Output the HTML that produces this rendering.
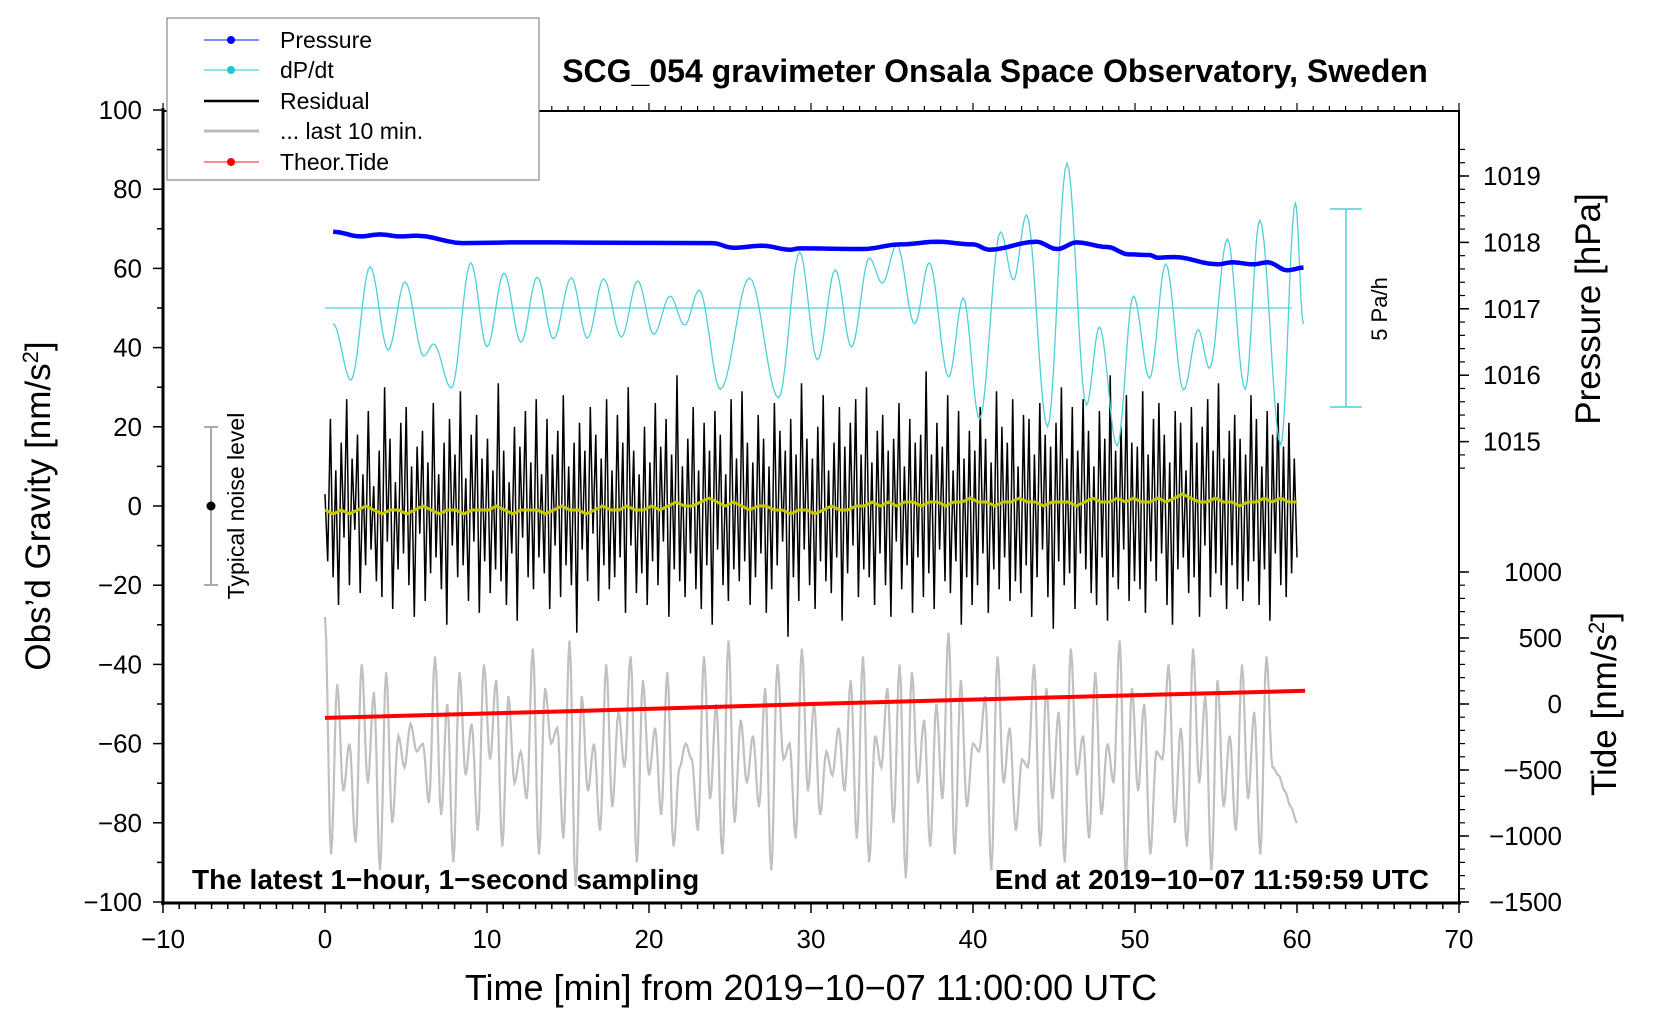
<!DOCTYPE html>
<html><head><meta charset="utf-8"><style>
html,body{margin:0;padding:0;background:#fff}
svg{display:block;font-family:"Liberation Sans",sans-serif}
</style></head><body>
<svg id="chart" width="1660" height="1020" viewBox="0 0 1660 1020" xmlns="http://www.w3.org/2000/svg">
<g id="axes"></g>
<g id="series"></g>
<text x="995" y="82" text-anchor="middle" font-size="32" font-weight="bold">SCG_054 gravimeter Onsala Space Observatory, Sweden</text>
<text x="192" y="889" font-size="28" font-weight="bold">The latest 1−hour, 1−second sampling</text>
<text x="1429" y="889" text-anchor="end" font-size="28" font-weight="bold">End at 2019−10−07 11:59:59 UTC</text>
<text x="811" y="1000" text-anchor="middle" font-size="36">Time [min] from 2019−10−07 11:00:00 UTC</text>
<text transform="translate(50,506) rotate(-90)" text-anchor="middle" font-size="35">Obs’d Gravity [nm/s<tspan baseline-shift="super" font-size="22">2</tspan>]</text>
<text transform="translate(1600,309) rotate(-90)" text-anchor="middle" font-size="35">Pressure [hPa]</text>
<text transform="translate(1616,704) rotate(-90)" text-anchor="middle" font-size="35">Tide [nm/s<tspan baseline-shift="super" font-size="22">2</tspan>]</text>
<g>
<line x1="211" y1="427" x2="211" y2="585" stroke="#aaa" stroke-width="2"/>
<line x1="204" y1="427" x2="218" y2="427" stroke="#aaa" stroke-width="2"/>
<line x1="204" y1="585" x2="218" y2="585" stroke="#aaa" stroke-width="2"/>
<circle cx="211" cy="506" r="4.5" fill="#000"/>
<text transform="translate(244,506) rotate(-90)" text-anchor="middle" font-size="23">Typical noise level</text>
</g>
<g>
<line x1="1346" y1="209" x2="1346" y2="407" stroke="#4dd0d6" stroke-width="1.5"/>
<line x1="1330" y1="209" x2="1362" y2="209" stroke="#4dd0d6" stroke-width="1.5"/>
<line x1="1330" y1="407" x2="1362" y2="407" stroke="#4dd0d6" stroke-width="1.5"/>
<text transform="translate(1387,309) rotate(-90)" text-anchor="middle" font-size="22">5 Pa/h</text>
</g>
<g>
<rect x="167" y="18" width="372" height="162" fill="#fff" stroke="#888" stroke-width="1.2"/>
<g><line x1="204" y1="40" x2="259" y2="40" stroke="#3344ff" stroke-width="1.2"/><circle cx="231" cy="40" r="4" fill="#0000ff"/><text x="280" y="48" font-size="23">Pressure</text></g>
<g><line x1="204" y1="70" x2="259" y2="70" stroke="#4dd0d6" stroke-width="1.2"/><circle cx="231" cy="70" r="4" fill="#20c8c8"/><text x="280" y="78" font-size="23">dP/dt</text></g>
<g><line x1="204" y1="101" x2="259" y2="101" stroke="#000" stroke-width="2.5"/><text x="280" y="109" font-size="23">Residual</text></g>
<g><line x1="204" y1="131" x2="259" y2="131" stroke="#bbb" stroke-width="3"/><text x="280" y="139" font-size="23">... last 10 min.</text></g>
<g><line x1="204" y1="162" x2="259" y2="162" stroke="#ff4444" stroke-width="1.2"/><circle cx="231" cy="162" r="4" fill="#ff0000"/><text x="280" y="170" font-size="23">Theor.Tide</text></g>
</g>
</svg>
<script>
const resid = [3,-14,22,-18,9,-25,16,-8,27,-20,12,-6,18,-22,8,-15,24,-11,5,-19,
14,-23,30,-9,17,-26,6,-16,21,-12,25,-20,10,-28,15,-7,19,-24,11,-17,
26,-13,8,-21,16,-30,22,-10,13,-18,29,-15,7,-24,18,-9,23,-27,12,-14,
17,-22,9,-16,31,-19,14,-25,6,-12,20,-29,15,-8,24,-18,11,-21,27,-13,
8,-17,22,-26,13,-10,19,-23,28,-15,10,-20,16,-32,21,-11,14,-19,25,-7,
18,-24,12,-15,27,-21,9,-18,23,-13,16,-27,30,-10,14,-22,8,-17,20,-25,
11,-14,26,-20,15,-9,22,-28,13,-16,33,-19,10,-23,17,-12,25,-21,9,-26,
21,-15,14,-30,24,-11,18,-20,8,-24,27,-16,12,-19,29,-14,16,-25,11,-18,
23,-12,17,-27,10,-21,26,-15,19,-9,14,-33,22,-18,13,-24,31,-11,17,-20,
12,-26,20,-14,28,-19,9,-22,16,-13,25,-29,15,-17,21,-10,27,-23,13,-16,
30,-18,11,-25,19,-12,23,-20,14,-28,17,-9,26,-21,10,-15,22,-27,16,-13,
18,-23,34,-17,13,-26,21,-11,15,-19,28,-22,9,-14,24,-30,12,-18,19,-25,
14,-20,25,-12,17,-27,11,-16,29,-21,20,-13,16,-24,27,-19,10,-22,23,-15,
22,-28,13,-18,26,-11,18,-23,15,-31,21,-14,30,-20,12,-17,25,-26,14,-12,
27,-16,19,-22,10,-25,24,-13,17,-29,33,-18,14,-21,20,-11,28,-24,16,-19,
15,-21,29,-27,13,-14,22,-19,26,-12,18,-25,11,-30,24,-16,21,-13,9,-22,
25,-18,16,-28,20,-10,27,-23,14,-17,31,-20,12,-26,19,-15,23,-21,17,-24,
13,-19,28,-14,22,-25,10,-16,24,-29,18,-12,26,-20,15,-23,21,-17,12,-13];
const smooth = [-1,-2,-1,-2,-1,0,-1,-2,-1,-1,-2,-1,0,-1,-2,-1,-1,-2,-1,-1,
-1,0,-1,-2,-1,-1,-1,-2,-1,0,-1,-1,-2,-1,0,-1,-1,0,-1,-1,
0,-1,0,1,0,0,1,2,1,0,1,0,-1,0,0,-1,-1,-2,-1,-1,
-2,-1,0,-1,-1,0,0,1,0,1,0,1,1,0,1,1,0,1,1,2,
1,1,0,1,1,2,1,1,0,1,1,1,0,1,2,1,1,2,1,2,
1,1,2,1,2,3,2,1,1,2,1,1,0,1,1,2,1,2,1,1];
const last10 = [-28,-88,-45,-72,-60,-85,-40,-70,-47,-92,-42,-80,-58,-66,-55,-62,-60,-75,-38,-78,
-50,-90,-42,-68,-55,-82,-40,-64,-44,-86,-48,-70,-62,-74,-36,-88,-46,-60,-56,-84,
-34,-96,-48,-72,-60,-82,-40,-76,-52,-66,-38,-90,-44,-68,-56,-78,-42,-86,-66,-60,
-64,-82,-38,-74,-50,-88,-34,-80,-54,-70,-58,-76,-46,-92,-40,-64,-60,-84,-36,-72,
-50,-78,-62,-68,-56,-72,-44,-84,-38,-90,-58,-66,-46,-80,-40,-94,-42,-70,-54,-86,
-50,-74,-32,-88,-44,-76,-60,-62,-48,-92,-38,-70,-56,-82,-64,-66,-40,-86,-46,-74,
-52,-90,-36,-68,-58,-84,-42,-78,-60,-70,-34,-94,-46,-72,-50,-88,-62,-64,-40,-80,
-56,-86,-36,-70,-48,-92,-44,-76,-58,-82,-40,-74,-52,-88,-38,-66,-68,-72,-76,-80];
const pressT = [0.5,2.2,3.4,4.6,5.7,8.5,12.0,23.9,25.2,27.0,28.7,29.3,33.2,35.5,37.8,40.0,41.0,43.9,45.2,46.4,48.3,49.6,50.9,51.4,52.4,55.1,56.0,57.3,58.2,59.4,60.4];
const pressV = [1018.16,1018.09,1018.12,1018.09,1018.10,1017.99,1018.0,1017.99,1017.92,1017.95,1017.89,1017.91,1017.90,1017.97,1018.01,1017.97,1017.89,1018.01,1017.90,1018.0,1017.93,1017.82,1017.81,1017.77,1017.78,1017.67,1017.70,1017.67,1017.70,1017.58,1017.62];
const dpdtT = [0.5,1.6,2.78,3.9,4.94,6.1,6.7,7.8,9.0,10.0,11.05,12.1,13.1,14.1,15.2,16.2,17.2,18.3,19.3,20.3,21.3,22.2,23.1,24.4,26.2,28.0,29.3,30.4,31.5,32.5,33.6,34.4,35.3,36.4,37.3,38.5,39.4,40.4,41.7,42.5,43.3,44.6,45.8,47.0,47.8,48.9,49.9,50.9,51.9,53.0,53.9,54.6,55.7,56.8,57.7,59.0,59.9,60.4];
const dpdtV = [-0.40,-1.82,1.04,-1.06,0.66,-1.21,-0.91,-2.02,1.14,-0.98,0.88,-0.86,0.78,-0.78,0.76,-0.76,0.73,-0.73,0.68,-0.66,0.30,-0.43,0.45,-2.05,0.76,-2.27,1.41,-1.31,0.96,-0.98,1.26,0.63,1.59,-0.40,1.14,-1.74,0.25,-2.80,1.92,0.71,2.35,-3.0,3.66,-2.45,-0.48,-3.48,0.30,-1.77,1.11,-2.07,-0.55,-1.52,1.74,-2.05,2.22,-3.45,2.65,-0.40];
const tideT = [0,15,30,45,60.5];
const tideV = [-105,-55,0,50,100];
const xTicks = [-10,0,10,20,30,40,50,60,70];
const gTicks = [100,80,60,40,20,0,-20,-40,-60,-80,-100];
const pTicks = [1019,1018,1017,1016,1015];
const tTicks = [1000,500,0,-500,-1000,-1500];

const NS = "http://www.w3.org/2000/svg";
const xS = t => 325 + t * 16.2;
const yG = g => 506 - g * 3.96;
const yP = p => 176 + (1019 - p) * 66.4;
const yD = v => 308 - v * 39.6;
const yT = v => 704 - v * 66 / 500;
const axes = document.getElementById('axes');
const series = document.getElementById('series');
function mk(tag, attrs, parent) { const e = document.createElementNS(NS, tag); for (const k in attrs) e.setAttribute(k, attrs[k]); parent.appendChild(e); return e; }
function cosPath(ts, vs, yf, n) {
  let d = 'M' + xS(ts[0]).toFixed(1) + ',' + yf(vs[0]).toFixed(1);
  for (let i = 0; i < ts.length - 1; i++) {
    for (let k = 1; k <= n; k++) {
      const s = k / n, w = (1 - Math.cos(Math.PI * s)) / 2;
      const t = ts[i] + (ts[i + 1] - ts[i]) * s, v = vs[i] + (vs[i + 1] - vs[i]) * w;
      d += 'L' + xS(t).toFixed(1) + ',' + yf(v).toFixed(1);
    }
  }
  return d;
}
let f = mk('rect', {x:163,y:111,width:1296,height:792,fill:'none',stroke:'#000','stroke-width':2}, axes);


let l = mk('line', {x1:163,y1:108,x2:163,y2:905,stroke:'#000','stroke-width':3}, axes);


l = mk('line', {x1:161,y1:903,x2:1461,y2:903,stroke:'#000','stroke-width':3}, axes);


for (let t = -10; t <= 70; t++) {
  const big = t % 10 === 0;
  mk('line', {x1:xS(t),y1:903,x2:xS(t),y2:903+(big?10:6),stroke:'#000','stroke-width':1.5}, axes);
  mk('line', {x1:xS(t),y1:111,x2:xS(t),y2:111-(big?8:5),stroke:'#000','stroke-width':1.2}, axes);
}
xTicks.forEach(t => {
  const e = mk('text', {x:xS(t),y:948,'text-anchor':'middle','font-size':26}, axes);
  e.textContent = t < 0 ? '−' + (-t) : String(t);
  
  
});
for (let g = -100; g <= 100; g += 10) mk('line', {x1:163,y1:yG(g),x2:163-(g%20===0?10:6),y2:yG(g),stroke:'#000','stroke-width':1.5}, axes);
gTicks.forEach(g => {
  const e = mk('text', {x:142,y:yG(g)+9,'text-anchor':'end','font-size':26}, axes);
  e.textContent = g < 0 ? '−' + (-g) : String(g);
  
  
});
for (let p = 1014.6; p <= 1019.6; p += 0.2) mk('line', {x1:1459,y1:yP(p),x2:1465,y2:yP(p),stroke:'#000','stroke-width':1.2}, axes);
pTicks.forEach(p => {
  mk('line', {x1:1459,y1:yP(p),x2:1469,y2:yP(p),stroke:'#000','stroke-width':1.5}, axes);
  const e = mk('text', {x:1483,y:yP(p)+9,'font-size':26}, axes);
  e.textContent = String(p);
  
  
});
for (let v = -1500; v <= 1000; v += 100) mk('line', {x1:1459,y1:yT(v),x2:1465,y2:yT(v),stroke:'#000','stroke-width':1.2}, axes);
tTicks.forEach(v => {
  mk('line', {x1:1459,y1:yT(v),x2:1469,y2:yT(v),stroke:'#000','stroke-width':1.5}, axes);
  const e = mk('text', {x:1562,y:yT(v)+9,'text-anchor':'end','font-size':26}, axes);
  e.textContent = v < 0 ? '−' + (-v) : String(v);
  
  
});
let gd = cosPath(last10.map((_, i) => i * 60 / (last10.length - 1)), last10, yG, 5);
let p = mk('path', {d:gd,fill:'none',stroke:'#c0c0c0','stroke-width':2.2}, series);


let rd = '';
resid.forEach((v, i) => { rd += (i ? 'L' : 'M') + xS(i * 60 / (resid.length - 1)).toFixed(1) + ',' + yG(v).toFixed(1); });
p = mk('path', {d:rd,fill:'none',stroke:'#000','stroke-width':1.5}, series);


let sd = '';
smooth.forEach((v, i) => { sd += (i ? 'L' : 'M') + xS(i * 60 / (smooth.length - 1)).toFixed(1) + ',' + yG(v).toFixed(1); });
p = mk('path', {d:sd,fill:'none',stroke:'#c8c800','stroke-width':3}, series);


let td = '';
tideT.forEach((t, i) => { td += (i ? 'L' : 'M') + xS(t).toFixed(1) + ',' + yT(tideV[i]).toFixed(1); });
p = mk('path', {d:td,fill:'none',stroke:'#ff0000','stroke-width':4}, series);


l = mk('line', {x1:xS(0),y1:yD(0),x2:xS(59.7),y2:yD(0),stroke:'#4dd0d6','stroke-width':1.2}, series);


p = mk('path', {d:cosPath(dpdtT, dpdtV, yD, 10),fill:'none',stroke:'#4dd0d6','stroke-width':1.3}, series);


p = mk('path', {d:cosPath(pressT, pressV, yP, 6),fill:'none',stroke:'#0000ff','stroke-width':4.5,'stroke-linejoin':'round'}, series);


</script>
</body></html>
